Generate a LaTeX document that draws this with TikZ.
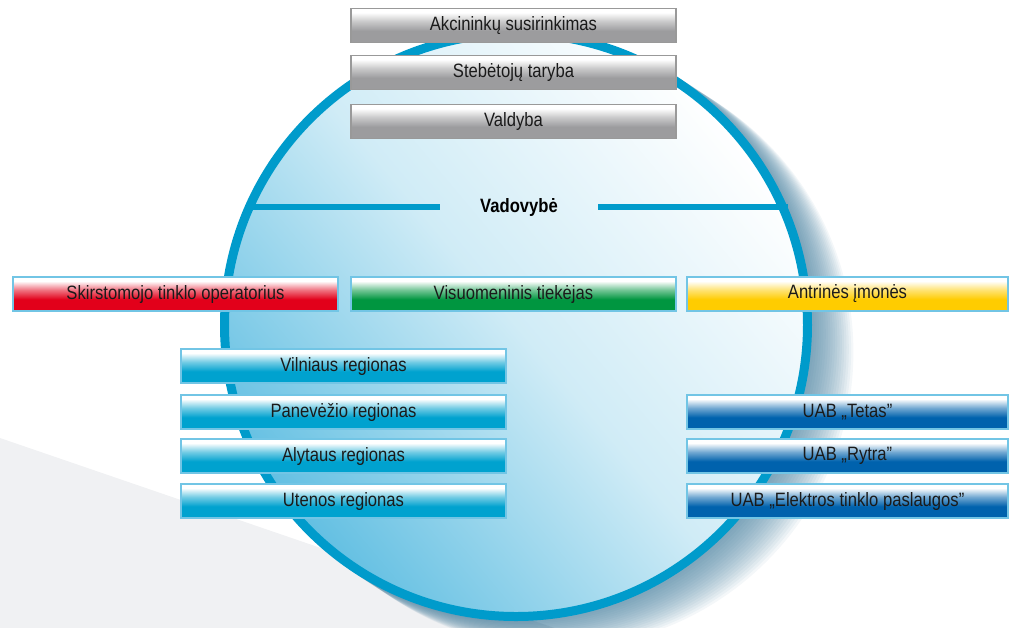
\documentclass[tikz,border=0pt]{standalone}
\usepackage{fontspec}
\setmainfont{Liberation Sans}[FakeStretch=0.86]
\usepackage{tikz}
\usetikzlibrary{positioning}
\definecolor{vxanh}{HTML}{009BCB}
\definecolor{vxanhnhat}{HTML}{62BFE2}
\definecolor{vbong}{HTML}{3F7A9A}
\definecolor{vnen}{HTML}{F0F1F3}
\definecolor{vxam}{HTML}{9C9C9E}
\definecolor{vdo}{HTML}{E2001A}
\definecolor{vluc}{HTML}{009640}
\definecolor{vvang}{HTML}{FFCC00}
\definecolor{vlam}{HTML}{00A2CF}
\definecolor{vtim}{HTML}{0062AD}
\definecolor{vchu}{HTML}{1A1A1A}
\colorlet{boxcol}{vxam}
\pgfdeclareverticalshading[boxcol]{boxshade}{100bp}{color(0bp)=(boxcol); color(25bp)=(boxcol);
  color(42bp)=(boxcol); color(56bp)=(boxcol!55!white); color(69bp)=(white); color(100bp)=(white)}

\begin{document}
\begin{tikzpicture}[x=0.02cm,y=-0.02cm,declare function={cx=516;cy=325;r=291.5;}]
		\tikzstyle{boxstyle} = [minimum width=6.5cm,minimum height=0.68cm,inner sep=0pt,line width=0.8pt,
		text=vchu,font=\fontsize{11}{13}\selectfont,shade,shading=boxshade]
		\tikzstyle{graybox} = [boxstyle,draw=gray!80,/utils/exec={\colorlet{boxcol}{vxam}}]
		\tikzstyle{colorbox} = [boxstyle,draw=vxanhnhat!90,/utils/exec={\colorlet{boxcol}{#1}}]
		\tikzstyle{linestyle} = [line width=0.12cm,vxanh]
		\clip (0,0) rectangle (1012,627);
		% background
		\fill[vnen] (0,438)--(560,630)--(0,630)--cycle;
		\foreach \i in {1,...,18}
		\fill[vbong,opacity=.06] ({cx+2.3*\i},{cy+1.5*\i}) circle (296*0.02cm);
		\shade[top color=white,bottom color=vxanhnhat,middle color=vxanhnhat!30!white,shading angle=-50]
		(cx,cy) circle (r*0.02cm);
		% Vadovybe
		\node[minimum width=3.16cm,inner sep=0pt,font=\fontsize{11}{13}\selectfont\bfseries,text=black]
		(vad) at (519,207) {Vadovybė};
		\coordinate (vadL) at (246,207);
		\coordinate (vadR) at (788,207);
		\draw[linestyle] (vadL)--(vad.west);
		\draw[linestyle] (vad.east)--(vadR);
		\draw[vxanh,line width=0.18cm] (cx,cy) circle (r*0.02cm);
		% top
		\node[graybox] (akc) at (513.5,25.5) {Akcininkų susirinkimas};
		\node[graybox] (steb) at (513.5,72.5) {Stebėtojų taryba};
		\node[graybox] (vald) at (513.5,121.5) {Valdyba};
		% middle row
		\node[colorbox=vdo] (sto) at (175.5,294) {Skirstomojo tinklo operatorius};
		\node[colorbox=vluc] (vt) at (513.5,294) {Visuomeninis tiekėjas};
		\node[colorbox=vvang,minimum width=6.42cm] (ai) at (847.5,294) {Antrinės įmonės};
		% regions
		\node[colorbox=vlam] (vil) at (343.5,366) {Vilniaus regionas};
		\node[colorbox=vlam] (pan) at (343.5,412) {Panevėžio regionas};
		\node[colorbox=vlam] (aly) at (343.5,456) {Alytaus regionas};
		\node[colorbox=vlam] (ute) at (343.5,501) {Utenos regionas};
		% subsidiaries
		\node[colorbox=vtim,minimum width=6.42cm] (tet) at (847.5,412) {UAB „Tetas”};
		\node[colorbox=vtim,minimum width=6.42cm] (ryt) at (847.5,456) {UAB „Rytra”};
		\node[colorbox=vtim,minimum width=6.42cm] (etp) at (847.5,501) {UAB „Elektros tinklo paslaugos”};
	\end{tikzpicture}
\end{document}
